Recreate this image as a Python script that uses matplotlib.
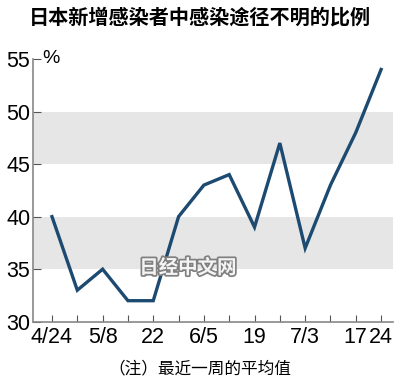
import matplotlib
matplotlib.use("Agg")
import matplotlib.pyplot as plt
import matplotlib.patheffects as pe
from matplotlib import font_manager

# weekly share of new cases with unknown infection route (%)
dates = ["4/24", "5/1", "5/8", "5/15", "5/22", "5/29", "6/5", "6/12",
         "6/19", "6/26", "7/3", "7/10", "7/17", "7/24"]
values = [40, 33, 35, 32, 32, 40, 43, 44, 39, 47, 37, 43, 48, 54]
tick_labels = ["4/24", "", "5/8", "", "22", "", "6/5", "", "19", "", "7/3", "", "17", "24"]
y_ticks = [30, 35, 40, 45, 50, 55]
bands = [(35, 40), (45, 50)]

cjk = ["Noto Sans CJK SC", "DejaVu Sans"]
names = {f.name for f in font_manager.fontManager.ttflist}
num_font = "Liberation Sans Narrow" if "Liberation Sans Narrow" in names else "Liberation Sans"

fig = plt.figure(figsize=(4, 3.83), dpi=100)
ax = fig.add_axes([0.0825, 0.160, 0.9, 0.686])

x = list(range(len(values)))
for lo, hi in bands:
    ax.axhspan(lo, hi, color="#e6e6e6", lw=0, zorder=0)
ax.plot(x, values, color="#1c4a70", lw=2.4, solid_joinstyle="miter", zorder=3)

ax.set_xlim(-0.75, 13.47)
ax.set_ylim(30, 55)
ax.set_xticks(x)
ax.set_xticklabels(tick_labels, fontfamily=num_font, fontsize=15.5)
ax.set_yticks(y_ticks)
ax.set_yticklabels([str(v) for v in y_ticks], fontfamily=num_font, fontsize=15.5)
ax.tick_params(axis="x", direction="in", length=5, width=0.8, color="#555555", pad=4)
ax.tick_params(axis="y", direction="in", length=6, width=0.8, color="#555555", pad=2)
for s in ["top", "right"]:
    ax.spines[s].set_visible(False)
for s in ["left", "bottom"]:
    ax.spines[s].set_color("#888888")
    ax.spines[s].set_linewidth(1.2)

ax.text(-0.38, 55, "%", fontfamily=num_font, fontsize=14, va="center", ha="left")

fig.text(0.5, 0.955, "日本新增感染者中感染途径不明的比例", family=cjk,
         fontsize=14.5, fontweight="bold", ha="center", va="center")
fig.text(0.5, 0.038, "（注）最近一周的平均值", family=cjk,
         fontsize=12, ha="center", va="center")
fig.text(0.47, 0.30, "日经中文网", family=cjk, fontsize=14, fontweight="bold",
         color="#f4f4f4", ha="center", va="center",
         path_effects=[pe.withStroke(linewidth=2.5, foreground="#808080")])

fig.savefig("out.png", dpi=100)
